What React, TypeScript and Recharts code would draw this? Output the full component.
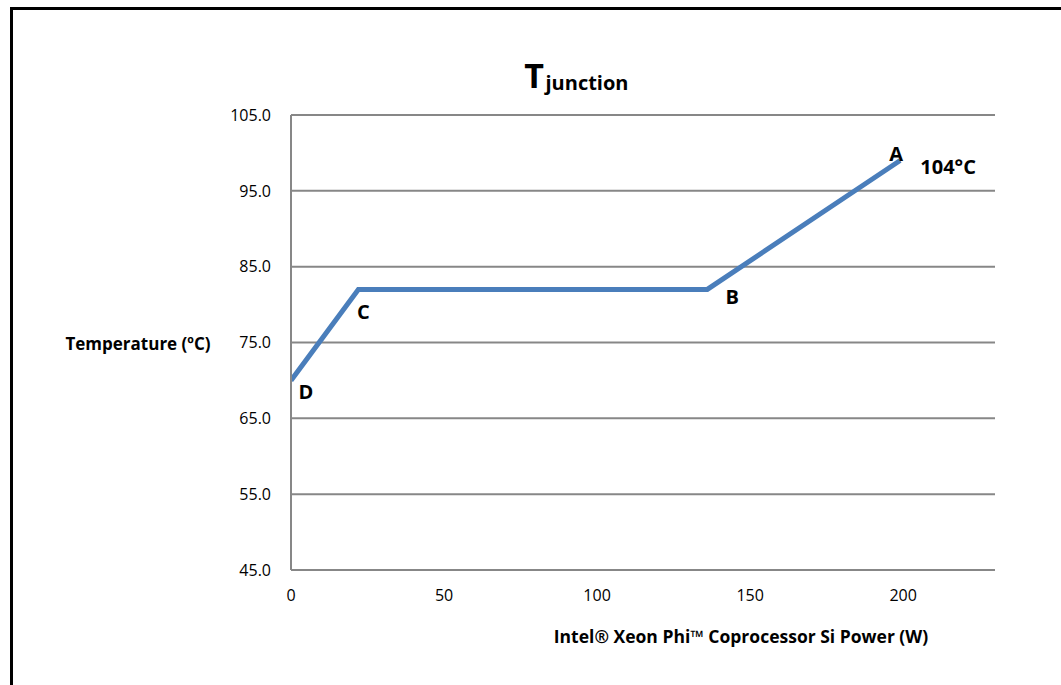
import React from "react";
import { LineChart, Line, XAxis, YAxis, CartesianGrid } from "recharts";

const powerW = [0, 22, 136, 199];
const tempC = [70, 82, 82, 99];
const pointNames = ["D", "C", "B", "A"];
const endNote = "104°C";
const xTicks = [0, 50, 100, 150, 200];
const yTicks = [45, 55, 65, 75, 85, 95, 105];

const data = powerW.map((p, i) => ({ power: p, temp: tempC[i], name: pointNames[i] }));

const labelOffsets = [
  { dx: 15, dy: 11 },
  { dx: 5, dy: 22 },
  { dx: 25, dy: 7 },
  { dx: -4, dy: -7 },
];

const FONT = "'Open Sans', 'Noto Sans', sans-serif";
const GRID = "#878787";

const PointLabel = (props: any) => {
  const { x, y, index } = props;
  const off = labelOffsets[index] || { dx: 0, dy: 0 };
  return (
    <g>
      <text
        x={x + off.dx}
        y={y + off.dy}
        textAnchor="middle"
        dominantBaseline="central"
        fontFamily={FONT}
        fontWeight="bold"
        fontSize={20}
        fill="#000"
      >
        {pointNames[index]}
      </text>
      {index === pointNames.length - 1 ? (
        <text
          x={x + 48}
          y={y + 6}
          textAnchor="middle"
          dominantBaseline="central"
          fontFamily={FONT}
          fontWeight="bold"
          fontSize={20}
          fill="#000"
        >
          {endNote}
        </text>
      ) : null}
    </g>
  );
};

export default function App() {
  return (
    <div style={{ position: "absolute", left: 0, top: 0, width: 1061, height: 685, background: "#fff", overflow: "hidden" }}>
      <div
        style={{
          position: "absolute",
          left: 10,
          top: 7,
          width: 1100,
          height: 700,
          borderTop: "3px solid #000",
          borderLeft: "3px solid #000",
          boxSizing: "border-box",
        }}
      />
      <div style={{ position: "absolute", left: 0, top: 0 }}>
        <LineChart
          width={1061}
          height={685}
          data={data}
          margin={{ top: 115, right: 66, bottom: 85, left: 211 }}
        >
          <text x={534} y={88} textAnchor="middle" fontFamily={FONT} fontWeight="bold" fontSize={34} fill="#000">
            T
          </text>
          <text x={587} y={90} textAnchor="middle" fontFamily={FONT} fontWeight="bold" fontSize={20} fill="#000">
            junction
          </text>
          <CartesianGrid vertical={false} stroke={GRID} strokeWidth={2} />
          <XAxis
            dataKey="power"
            type="number"
            domain={[0, 230]}
            ticks={xTicks}
            allowDataOverflow
            height={30}
            tickSize={0}
            tickMargin={20}
            axisLine={{ stroke: GRID, strokeWidth: 2 }}
            tickLine={false}
            tick={{ fill: "#000", fontSize: 16, fontFamily: FONT }}
          />
          <YAxis
            dataKey="temp"
            type="number"
            domain={[45, 105]}
            ticks={yTicks}
            width={80}
            tickSize={0}
            tickMargin={20}
            axisLine={{ stroke: GRID, strokeWidth: 2 }}
            tickLine={false}
            tickFormatter={(v: number) => v.toFixed(1)}
            tick={{ fill: "#000", fontSize: 16, fontFamily: FONT }}
          />
          <text x={138} y={343} textAnchor="middle" dominantBaseline="central" fontFamily={FONT} fontWeight="bold" fontSize={17} fill="#000">
            Temperature (ºC)
          </text>
          <text x={741} y={636} textAnchor="middle" dominantBaseline="central" fontFamily={FONT} fontWeight="bold" fontSize={17.5} fill="#000">
            Intel® Xeon Phi™ Coprocessor Si Power (W)
          </text>
          <Line
            dataKey="temp"
            stroke="#4a7ebb"
            strokeWidth={5}
            dot={false}
            isAnimationActive={false}
            label={<PointLabel />}
          />
        </LineChart>
      </div>
    </div>
  );
}
